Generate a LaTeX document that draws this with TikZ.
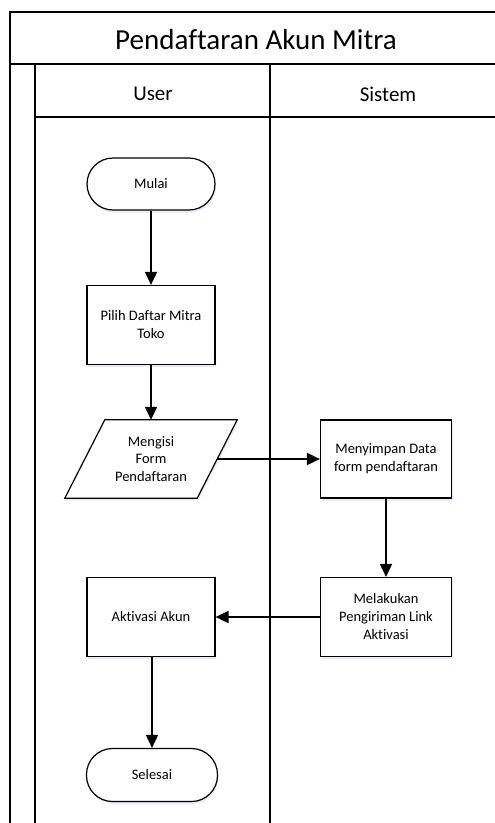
\documentclass[tikz,border=0pt]{standalone}
\usepackage{fontspec}
\setmainfont{Carlito}[Ligatures={NoCommon}]
\usetikzlibrary{arrows.meta,shadows}

\begin{document}
\begin{tikzpicture}[x=1pt,y=-1pt,
  lane/.style={line width=1.4pt},
  flow/.style={line width=1.8pt,-{Triangle[length=13pt,width=12pt]}},
  shade/.style={drop shadow={shadow xshift=1pt,shadow yshift=-2.5pt,fill=blue!25,opacity=0.35}},
  proc/.style={draw,line width=1.2pt,fill=white,minimum width=128pt,minimum height=79pt,
    align=center,inner sep=2pt,font=\fontsize{14.5}{18}\selectfont,shade},
  term/.style={proc,rounded corners=26pt,minimum height=52pt},
  plain/.style={minimum width=132pt,minimum height=78pt,align=center,inner sep=2pt,
    font=\fontsize{14.5}{17.5}\selectfont},
  title/.style={font=\fontsize{29}{34}\selectfont},
  head/.style={font=\fontsize{21}{25}\selectfont}]

\useasboundingbox (0,0) rectangle (495,823);

% pool and lanes
\draw[lane] (10,823) -- (10,12) -- (495,12);
\draw[lane] (10,64) -- (495,64);
\draw[lane] (35,64) -- (35,823);
\draw[lane] (270,64) -- (270,823);
\draw[lane] (35,117) -- (495,117);

\node[title] (pool) at (256,40) {Pendaftaran Akun Mitra};
\node[head] (user) at (153,94) {User};
\node[head] (sys) at (388,94) {Sistem};

% flow steps
\node[term] (mulai) at (151,184) {Mulai};
\node[proc] (pilih) at (151,325) {Pilih Daftar Mitra\\Toko};
\node[plain] (form) at (151,459) {};
\fill[blue!25,opacity=0.35] ([shift={(21,2.5)}]form.north west) -- ([shift={(21,2.5)}]form.north east)
  -- ([shift={(-19,2.5)}]form.south east) -- ([shift={(-19,2.5)}]form.south west) -- cycle;
\draw[line width=1.2pt,fill=white] ([xshift=20pt]form.north west) -- ([xshift=20pt]form.north east)
  -- ([xshift=-20pt]form.south east) -- ([xshift=-20pt]form.south west) -- cycle;
\node[plain] at (form) {Mengisi\\Form\\Pendaftaran};
\node[proc,minimum width=131pt,minimum height=78pt] (simpan) at (386,459) {Menyimpan Data\\form pendaftaran};
\node[proc,minimum width=131pt] (kirim) at (386,617) {Melakukan\\Pengiriman Link\\Aktivasi};
\node[proc] (aktif) at (151,617) {Aktivasi Akun};
\node[term,minimum width=131pt,minimum height=53pt] (selesai) at (152,775) {Selesai};

% connectors
\draw[flow] (mulai) -- (pilih);
\draw[flow] (pilih) -- (form);
\draw[flow] (form.east) -- (simpan.west);
\draw[flow] (simpan) -- (kirim);
\draw[flow] (kirim.west) -- (aktif.east);
\draw[flow] (aktif.south -| selesai) -- (selesai.north);
\end{tikzpicture}
\end{document}
